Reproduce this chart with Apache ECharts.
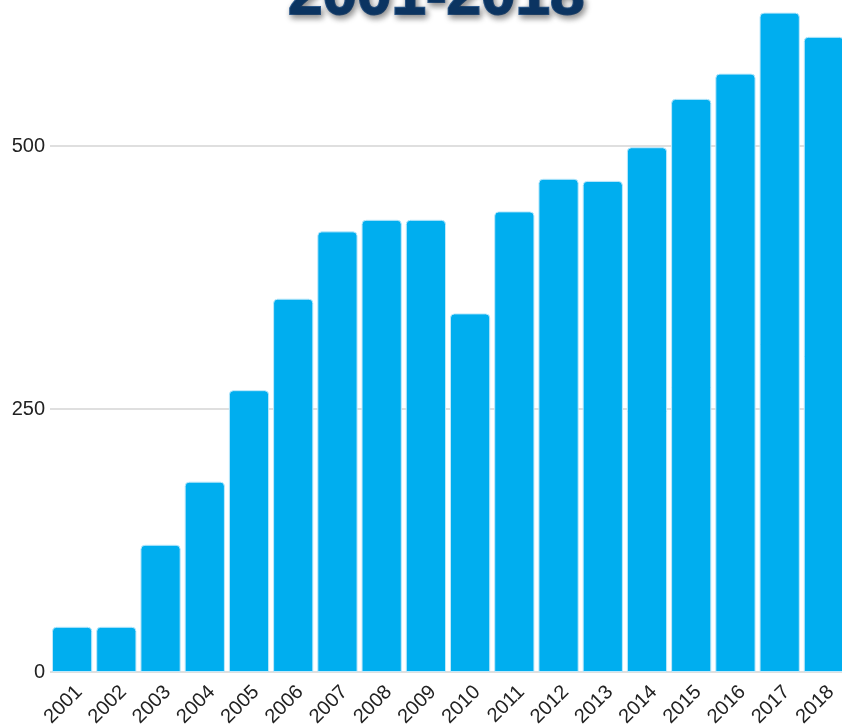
<!DOCTYPE html>
<html><head><meta charset="utf-8">
<script src="https://cdn.jsdelivr.net/npm/echarts@6/dist/echarts.min.js"></script>
<style>html,body{margin:0;padding:0;background:#fff}#c{width:842px;height:724px}</style>
</head><body><div id="c"></div>
<script>
const categories = ['2001','2002','2003','2004','2005','2006','2007','2008','2009','2010','2011','2012','2013','2014','2015','2016','2017','2018'];
const values = [43,43,121,181,268,355,419,430,430,341,438,469,467,499,545,569,627,604];
const titleText = '2001-2018';

const chart = echarts.init(document.getElementById('c'), null, {renderer:'canvas'});
chart.setOption({
  animation:false,
  title:{
    text:titleText, left:283, top:-39,
    textStyle:{fontFamily:'Liberation Sans', fontWeight:'bold', fontSize:62, color:'#0b3461',
      textBorderColor:'#2f5f95', textBorderWidth:2,
      textShadowColor:'rgba(0,0,0,0.45)', textShadowBlur:6, textShadowOffsetX:2, textShadowOffsetY:3}
  },
  grid:{left:50, right:-4, top:0, bottom:52, containLabel:false, outerBoundsMode:'none'},
  xAxis:{type:'category', data:categories,
    axisLine:{show:false}, axisTick:{show:false},
    axisLabel:{rotate:45, fontSize:20, color:'#222', fontFamily:'Liberation Sans', margin:24, interval:0, padding:[0,-10,0,0]}
  },
  yAxis:{type:'value', min:0, max:639, interval:250,
    axisLine:{show:false}, axisTick:{show:false},
    axisLabel:{fontSize:20, color:'#222', fontFamily:'Liberation Sans', margin:5, showMaxLabel:false},
    splitLine:{showMaxLine:false, lineStyle:{color:'#d4d4d4', width:1.5}}
  },
  series:[{type:'bar', data:values, barCategoryGap:'9%',
    itemStyle:{color:'#00aeef', borderRadius:[4,4,0,0], borderColor:'#bfe9fb', borderWidth:1}
  }]
});
</script></body></html>
